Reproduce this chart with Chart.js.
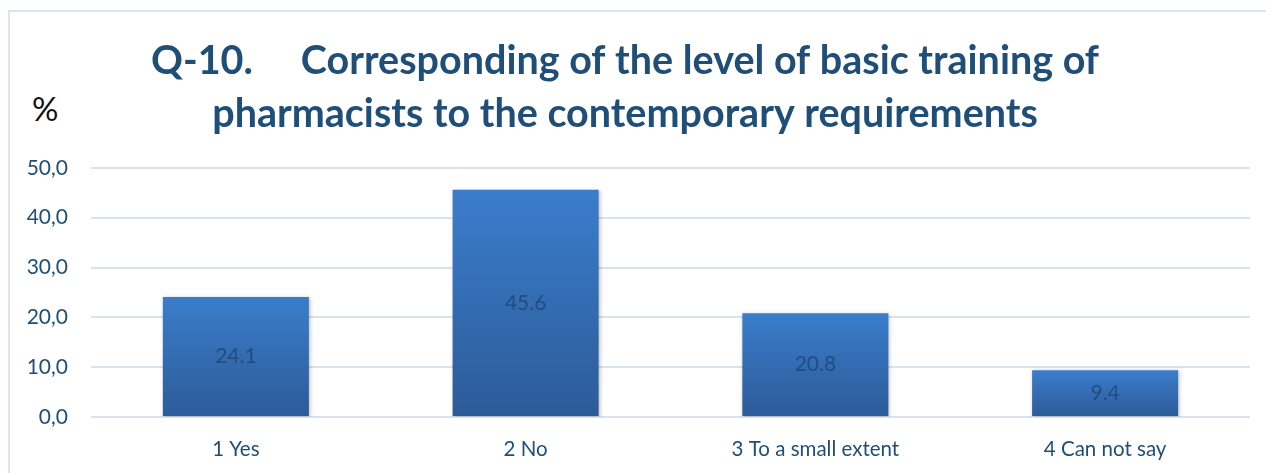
<!DOCTYPE html>
<html>
<head>
<meta charset="utf-8">
<script src="https://cdn.jsdelivr.net/npm/chart.js@4"></script>
<style>
  html, body { margin: 0; padding: 0; background: #fff; overflow: hidden; }
  #wrap { position: relative; width: 1266px; height: 473px; }
  #frame { position: absolute; left: 8px; top: 10px; width: 1300px; height: 500px; border: 2px solid #dae3f3; }
  #pct { position: absolute; left: 32px; top: 88px; font: 33px Lato, sans-serif; color: #111; }
  canvas { position: absolute; left: 0; top: 0; }
</style>
</head>
<body>
<div id="wrap">
  <div id="frame"></div>
  <div id="pct">%</div>
  <canvas id="chart" width="1266" height="473"></canvas>
</div>
<script>
const categories = ['1 Yes', '2 No', '3 To a small extent', '4 Can not say'];
const values = [24.1, 45.6, 20.8, 9.4];
const titleLines = ['Q-10.     Corresponding of the level of basic training of', 'pharmacists to the contemporary requirements'];

const DARK = '#1f4e79';

function barGradient(ctx) {
	const chart = ctx.chart;
	if (!chart.chartArea || ctx.raw == null) return '#3570b8';
	const y = chart.scales.y;
	const top = y.getPixelForValue(ctx.raw), base = y.getPixelForValue(0);
	const g = chart.ctx.createLinearGradient(0, top, 0, base);
	g.addColorStop(0, '#3b7dcc');
	g.addColorStop(1, '#2c5b98');
	return g;
}

const barShadow = {
	id: 'barShadow',
	beforeDatasetsDraw(chart) {
		const c = chart.ctx;
		c.save();
		c.shadowColor = 'rgba(0,0,0,0.28)';
		c.shadowBlur = 4;
		c.shadowOffsetX = 1;
		c.shadowOffsetY = 1;
	},
	afterDatasetsDraw(chart) { chart.ctx.restore(); }
};

const barLabels = {
	id: 'barLabels',
	afterDatasetsDraw(chart) {
		const c = chart.ctx;
		c.save();
		c.font = '21px Lato, sans-serif';
		c.fillStyle = 'rgba(31,72,120,0.85)';
		c.textAlign = 'center';
		c.textBaseline = 'middle';
		chart.getDatasetMeta(0).data.forEach((bar, i) => {
			c.fillText(values[i].toFixed(1), bar.x, (bar.y + bar.base) / 2);
		});
		c.restore();
	}
};

new Chart(document.getElementById('chart'), {
	type: 'bar',
	data: {
		labels: categories,
		datasets: [{ data: values, backgroundColor: barGradient, borderWidth: 0, categoryPercentage: 1, barPercentage: 0.504 }]
	},
	options: {
		responsive: false,
		animation: false,
		layout: { padding: { left: 0, right: 16, top: 0, bottom: 0 } },
		plugins: {
			legend: { display: false },
			tooltip: { enabled: false },
			title: {
				display: true,
				text: titleLines,
				color: DARK,
				font: { family: 'Lato', size: 39.5, weight: 'bold', lineHeight: 1.34 },
				padding: { top: 35, bottom: 27 }
			}
		},
		scales: {
			x: {
				grid: { display: false, drawTicks: false },
				border: { display: false },
				ticks: { color: DARK, font: { family: 'Lato', size: 20.5 }, padding: 20 },
				afterFit(s) { s.height = 56; }
			},
			y: {
				min: 0, max: 50,
				grid: { color: '#d9e2f1', lineWidth: 2, drawTicks: false },
				border: { display: false },
				ticks: { stepSize: 10, color: DARK, font: { family: 'Lato', size: 21 }, padding: 23,
					callback: v => v.toFixed(1).replace('.', ',') },
				afterFit(s) { s.width = 91; }
			}
		}
	},
	plugins: [barShadow, barLabels]
});
</script>
</body>
</html>
